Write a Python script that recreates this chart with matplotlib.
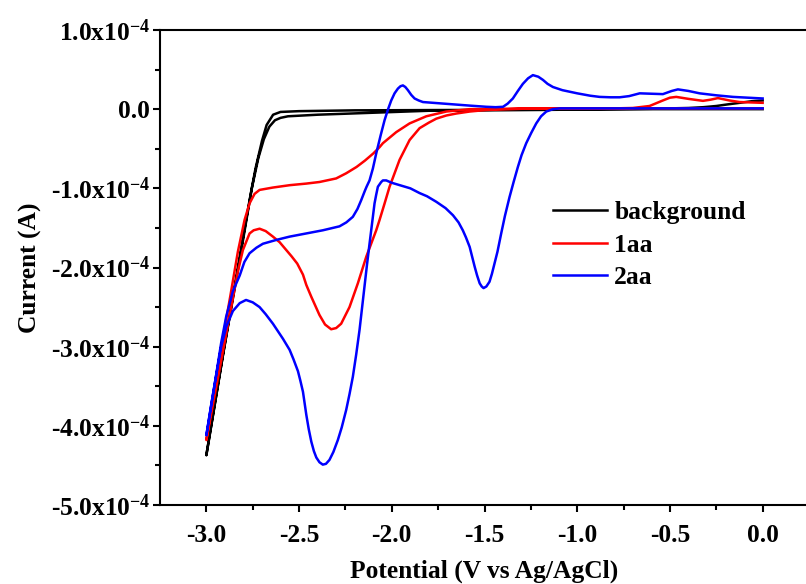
import numpy as np
from matplotlib import pyplot as plt

# potential (V) and current (x1e-4 A)
# each CV: forward scan 0 -> -3.0 V, then return -3.0 -> 0 V
bg_v = [0.0, -0.06, -0.124, -0.19, -0.25, -0.32, -0.4, -0.6, -0.8, -1.2, -1.5, -1.8, -2.1, -2.4, -2.56, -2.6, -2.63,
        -2.66, -2.69, -2.72, -2.755, -2.82, -2.91, -3.0,
        -2.91, -2.82, -2.767, -2.735, -2.70, -2.675, -2.64, -2.6, -2.5, -2.2, -1.6, -1.0, -0.5, 0.0]
bg_i = [0.11, 0.10, 0.08, 0.06, 0.04, 0.025, 0.015, 0.005, 0.0, -0.01, -0.015, -0.02, -0.045, -0.07, -0.09, -0.11, -0.14,
        -0.22, -0.38, -0.62, -1.0, -1.9, -3.1, -4.37,
        -3.1, -1.86, -1.15, -0.75, -0.40, -0.2, -0.07, -0.035, -0.025, -0.015, -0.01, 0.0, 0.0, 0.0]

aa1_v = [0.0, -0.5, -1.0, -1.3, -1.49, -1.58, -1.652, -1.706, -1.76, -1.80, -1.85, -1.904, -1.958, -2.012, -2.04,
         -2.066, -2.084, -2.137, -2.183, -2.228, -2.273, -2.30, -2.327, -2.36, -2.39, -2.434, -2.461, -2.479,
         -2.51, -2.54, -2.605, -2.641, -2.68, -2.713, -2.745, -2.767, -2.803, -2.83, -2.87, -2.93, -3.0,
         -2.93, -2.87, -2.83, -2.794, -2.767, -2.74, -2.713, -2.641, -2.55, -2.461, -2.39, -2.30, -2.246, -2.19,
         -2.145, -2.10, -2.066, -2.048, -1.976, -1.904, -1.814, -1.706, -1.58, -1.2, -0.8, -0.7, -0.61, -0.538,
         -0.50, -0.466, -0.4, -0.322, -0.28, -0.241, -0.18, -0.124, 0.0]
aa1_i = [0.01, 0.01, 0.01, 0.005, -0.01, -0.03, -0.055, -0.08, -0.12, -0.17, -0.24, -0.39, -0.64, -0.98, -1.2,
         -1.40, -1.53, -1.86, -2.20, -2.50, -2.71, -2.765, -2.78, -2.72, -2.60, -2.37, -2.22, -2.09,
         -1.95, -1.86, -1.68, -1.61, -1.54, -1.51, -1.53, -1.57, -1.78, -2.05, -2.55, -3.3, -4.18,
         -3.15, -2.35, -1.8, -1.40, -1.19, -1.07, -1.02, -0.99, -0.96, -0.94, -0.92, -0.875, -0.81, -0.73,
         -0.65, -0.56, -0.48, -0.43, -0.29, -0.18, -0.09, -0.03, 0.0, 0.01, 0.01, 0.015, 0.04, 0.11,
         0.145, 0.155, 0.13, 0.105, 0.12, 0.14, 0.11, 0.09, 0.08]

aa2_v = [0.0, -0.5, -1.095, -1.131, -1.167, -1.195, -1.221, -1.248, -1.275, -1.30, -1.32, -1.343, -1.365, -1.39,
         -1.41, -1.43, -1.446, -1.46, -1.473, -1.49, -1.505, -1.515, -1.526, -1.54, -1.553, -1.567, -1.58, -1.60,
         -1.617, -1.64, -1.67, -1.71, -1.76, -1.81, -1.85, -1.90, -1.958, -2.0, -2.03, -2.048, -2.057, -2.066,
         -2.075, -2.084, -2.093, -2.107, -2.12, -2.134, -2.147, -2.16, -2.174, -2.192, -2.21, -2.228, -2.246,
         -2.27, -2.291, -2.315, -2.336, -2.355, -2.372, -2.39, -2.407, -2.42, -2.434, -2.448, -2.461, -2.47,
         -2.479, -2.493, -2.506, -2.53, -2.551, -2.587, -2.641, -2.68, -2.713, -2.75, -2.786, -2.82, -2.857,
         -2.893, -2.92, -2.947, -2.975, -3.0,
         -2.95, -2.92, -2.893, -2.857, -2.82, -2.795, -2.767, -2.73, -2.695, -2.62, -2.551, -2.46, -2.372, -2.282,
         -2.245, -2.21, -2.185, -2.165, -2.145, -2.136, -2.12, -2.102, -2.084, -2.06, -2.039, -2.02, -2.003,
         -1.985, -1.967, -1.953, -1.94, -1.927, -1.913, -1.895, -1.877, -1.855, -1.832, -1.75, -1.67, -1.58,
         -1.49, -1.44, -1.40, -1.375, -1.347, -1.32, -1.293, -1.265, -1.239, -1.21, -1.185, -1.16, -1.131, -1.08,
         -1.0, -0.93, -0.879, -0.82, -0.771, -0.72, -0.663, -0.6, -0.538, -0.49, -0.457, -0.40, -0.34, -0.25,
         -0.16, -0.08, 0.0]
aa2_i = [0.01, 0.01, 0.01, 0.0, -0.03, -0.09, -0.18, -0.30, -0.43, -0.58, -0.73, -0.92, -1.11, -1.35,
         -1.57, -1.80, -1.95, -2.08, -2.18, -2.24, -2.26, -2.24, -2.20, -2.10, -1.99, -1.86, -1.74, -1.62,
         -1.53, -1.43, -1.34, -1.25, -1.17, -1.10, -1.06, -1.00, -0.96, -0.93, -0.90, -0.90, -0.92, -0.95,
         -0.98, -1.08, -1.19, -1.45, -1.70, -1.97, -2.24, -2.52, -2.79, -3.10, -3.38, -3.60, -3.80,
         -4.02, -4.18, -4.33, -4.43, -4.48, -4.49, -4.46, -4.40, -4.32, -4.20, -4.04, -3.86, -3.71,
         -3.57, -3.43, -3.31, -3.16, -3.04, -2.90, -2.71, -2.59, -2.50, -2.44, -2.41, -2.45, -2.55,
         -2.75, -3.0, -3.36, -3.75, -4.12,
         -3.4, -2.95, -2.62, -2.30, -2.10, -1.93, -1.82, -1.75, -1.70, -1.65, -1.61, -1.57, -1.53, -1.48,
         -1.43, -1.36, -1.26, -1.15, -1.03, -0.98, -0.90, -0.75, -0.56, -0.33, -0.14, 0.0, 0.11,
         0.20, 0.26, 0.29, 0.30, 0.28, 0.24, 0.18, 0.135, 0.11, 0.09, 0.075, 0.06, 0.045,
         0.03, 0.025, 0.03, 0.07, 0.135, 0.23, 0.32, 0.39, 0.43, 0.41, 0.37, 0.32, 0.28, 0.24,
         0.20, 0.17, 0.155, 0.15, 0.15, 0.165, 0.20, 0.195, 0.19, 0.23, 0.25, 0.23, 0.20, 0.175,
         0.155, 0.145, 0.135]

y_ticks = [1, 0, -1, -2, -3, -4, -5]
y_labels = ['1.0x10$^{-4}$', '0.0', '-1.0x10$^{-4}$', '-2.0x10$^{-4}$', '-3.0x10$^{-4}$',
            '-4.0x10$^{-4}$', '-5.0x10$^{-4}$']
x_ticks = [-3.0, -2.5, -2.0, -1.5, -1.0, -0.5, 0.0]
x_labels = ['-3.0', '-2.5', '-2.0', '-1.5', '-1.0', '-0.5', '0.0']

plt.rcParams['font.family'] = 'Liberation Serif'
plt.rcParams['font.weight'] = 'bold'
plt.rcParams['mathtext.fontset'] = 'custom'
plt.rcParams['mathtext.rm'] = 'Liberation Serif:bold'
plt.rcParams['mathtext.it'] = 'Liberation Serif:bold'
plt.rcParams['mathtext.bf'] = 'Liberation Serif:bold'
plt.rcParams['axes.unicode_minus'] = False
fs = 18.4

fig = plt.figure(figsize=(8.06, 5.84), dpi=100)
ax = fig.add_axes([160/806, 1-505/584, (809-160)/806, (505-30)/584])

sc = 1e-4
ax.plot(bg_v, np.array(bg_i)*sc, color='black', lw=1.8, label='background')
ax.plot(aa1_v, np.array(aa1_i)*sc, color='red', lw=1.8, label='1aa')
ax.plot(aa2_v, np.array(aa2_i)*sc, color='blue', lw=1.8, label='2aa')

ax.set_xlim(-3.25, 0.25)
ax.set_ylim(-5e-4, 1e-4)
ax.set_xticks(x_ticks)
ax.set_xticklabels(x_labels)
ax.set_xticks([-2.75, -2.25, -1.75, -1.25, -0.75, -0.25], minor=True)
ax.set_yticks([t*sc for t in y_ticks])
ax.set_yticklabels(y_labels)
ax.set_yticks([t*sc for t in [0.5, -0.5, -1.5, -2.5, -3.5, -4.5]], minor=True)

ax.tick_params(which='major', length=5, width=1.5, labelsize=fs, direction='out')
ax.tick_params(which='minor', length=3.3, width=1.5, direction='out')
ax.tick_params(axis='y', pad=2)
ax.tick_params(axis='x', pad=9)
for s in ['left', 'top', 'bottom']:
    ax.spines[s].set_linewidth(1.5)
ax.spines['right'].set_visible(False)

ax.set_xlabel('Potential (V vs Ag/AgCl)', fontsize=fs, fontweight='bold', labelpad=9)
ax.set_ylabel('Current (A)', fontsize=fs, fontweight='bold', labelpad=6)

ax.legend(loc='upper left', bbox_to_anchor=(553/806, 1-201/584), bbox_transform=fig.transFigure,
          frameon=False, fontsize=fs, handlelength=2.1, handletextpad=0.3, labelspacing=0.38,
          borderpad=0, borderaxespad=0)

fig.savefig('out.png', dpi=100)
